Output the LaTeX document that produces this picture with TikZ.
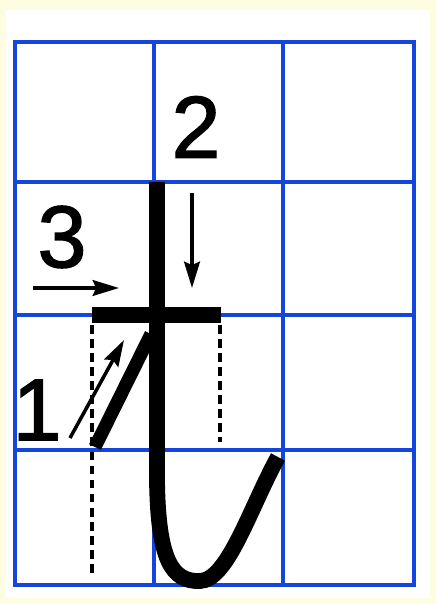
\documentclass[tikz,border=0pt]{standalone}
\usepackage{fontspec}
\setmainfont{Liberation Sans}
\newfontfamily\numfont{Liberation Sans}[FakeBold=1.6]
\usetikzlibrary{arrows.meta}
\definecolor{gridblue}{RGB}{20,70,220}
\definecolor{paper}{RGB}{255,253,225}

\begin{document}
\begin{tikzpicture}[x=0.02cm,y=-0.02cm,gridline/.style={gridblue,line width=2.2pt},stroke/.style={line width=9pt},guide/.style={line width=2.3pt,dash pattern=on 5pt off 3pt},hint/.style={line width=2pt,-{Stealth[length=15pt,width=9pt,inset=2pt]}},num/.style={font=\numfont\fontsize{50}{54}\selectfont,inner sep=0pt}]
\fill[paper] (0,0) rectangle (436,604);
\fill[white] (6,10) rectangle (430,598);
\useasboundingbox (0,0) rectangle (436,604);
\draw[gridline,line width=2.6pt] (15,42) rectangle (414,585);
\foreach \x in {154,283} \draw[gridline] (\x,42) -- (\x,585);
\foreach \y in {182,315,450} \draw[gridline] (15,\y) -- (414,\y);
\coordinate (T) at (157,182);
\coordinate (K) at (157,480);
\coordinate (U) at (200,581);
\coordinate (R) at (278,457);
\coordinate (L) at (92,315);
\coordinate (M) at (221,315);
\coordinate (P) at (95,447);
\coordinate (Q) at (151,334);
\draw[stroke] (T) -- (K) .. controls (158,560) and (172,582) .. (U) .. controls (228,580) and (250,508) .. (R);
\draw[stroke] (L) -- (M);
\draw[line width=7.5pt] (P) -- (Q);
\coordinate (G1a) at (92,325);
\coordinate (G1b) at (92,578);
\coordinate (G2a) at (220,325);
\coordinate (G2b) at (220,442);
\draw[guide] (G1a) -- (G1b);
\draw[guide] (G2a) -- (G2b);
\coordinate (A1) at (70,438);
\coordinate (B1) at (124,340);
\coordinate (A2) at (192,193);
\coordinate (B2) at (192,288);
\coordinate (A3) at (33,288);
\coordinate (B3) at (119,288);
\draw[hint] (A1) -- (B1);
\draw[hint] (A2) -- (B2);
\draw[hint] (A3) -- (B3);
\node[num] (n1) at (37,410) {1};
\node[num] (n2) at (196,127) {2};
\node[num] (n3) at (62,237) {3};
\end{tikzpicture}
\end{document}
